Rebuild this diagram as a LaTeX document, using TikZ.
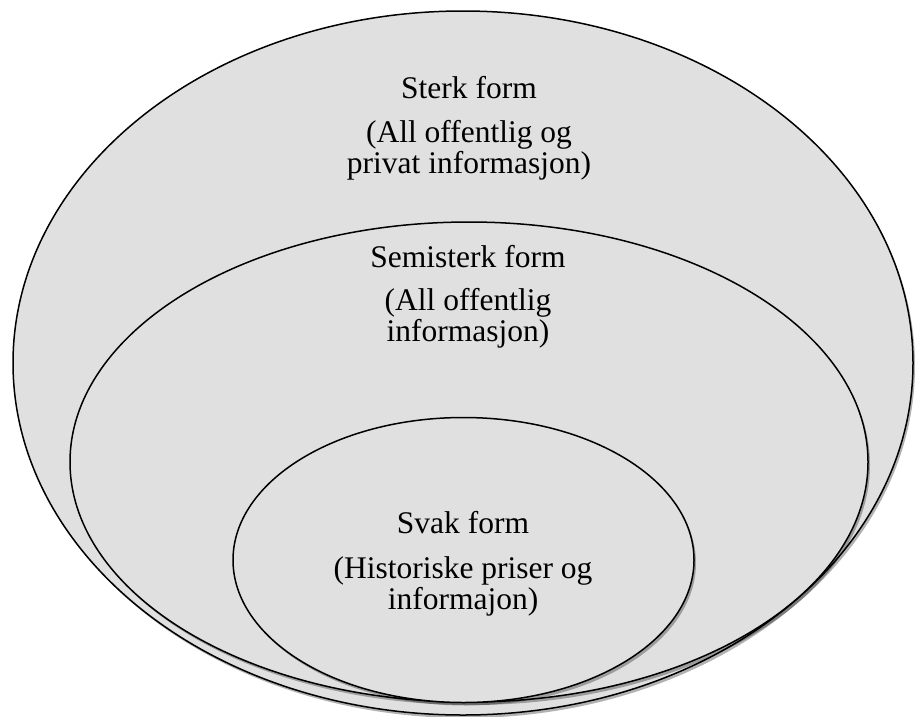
\documentclass[tikz,border=0pt]{standalone}
\usepackage{fontspec}
\setmainfont{Liberation Serif}
\usetikzlibrary{shapes.geometric}
\usetikzlibrary{shadows}
\definecolor{ringgrey}{HTML}{E0E0E0}

\begin{document}
\begin{tikzpicture}[x=1pt,y=-1pt,
    ring/.style={ellipse,draw,line width=1.5pt,fill=ringgrey,inner sep=0pt,
      drop shadow={shadow xshift=2pt,shadow yshift=-3pt,fill=black,opacity=.3}},
    formtext/.style={align=center,inner sep=0pt,font=\fontsize{31.5}{31}\selectfont}]
    \useasboundingbox (0,0) rectangle (915,716);
    %% the three nested forms
    \node[ring,minimum width=900pt,minimum height=704pt] (sterk) at (463,363) {};
    \node[ring,minimum width=798pt,minimum height=480pt] (semi) at (469,462) {};
    \node[ring,minimum width=461pt,minimum height=285pt] (svak) at (463.5,560) {};
    %%
    \node[formtext] (sterkT) at (469,88) {Sterk form};
    \node[formtext] (sterkD) at (469,150) {(All offentlig og\\privat informasjon)};
    \node[formtext] (semiT) at (468,257) {Semisterk form};
    \node[formtext] (semiD) at (468,318) {(All offentlig\\informasjon)};
    \node[formtext] (svakT) at (463,523) {Svak form};
    \node[formtext] (svakD) at (463,586) {(Historiske priser og\\informajon)};
\end{tikzpicture}
\end{document}
